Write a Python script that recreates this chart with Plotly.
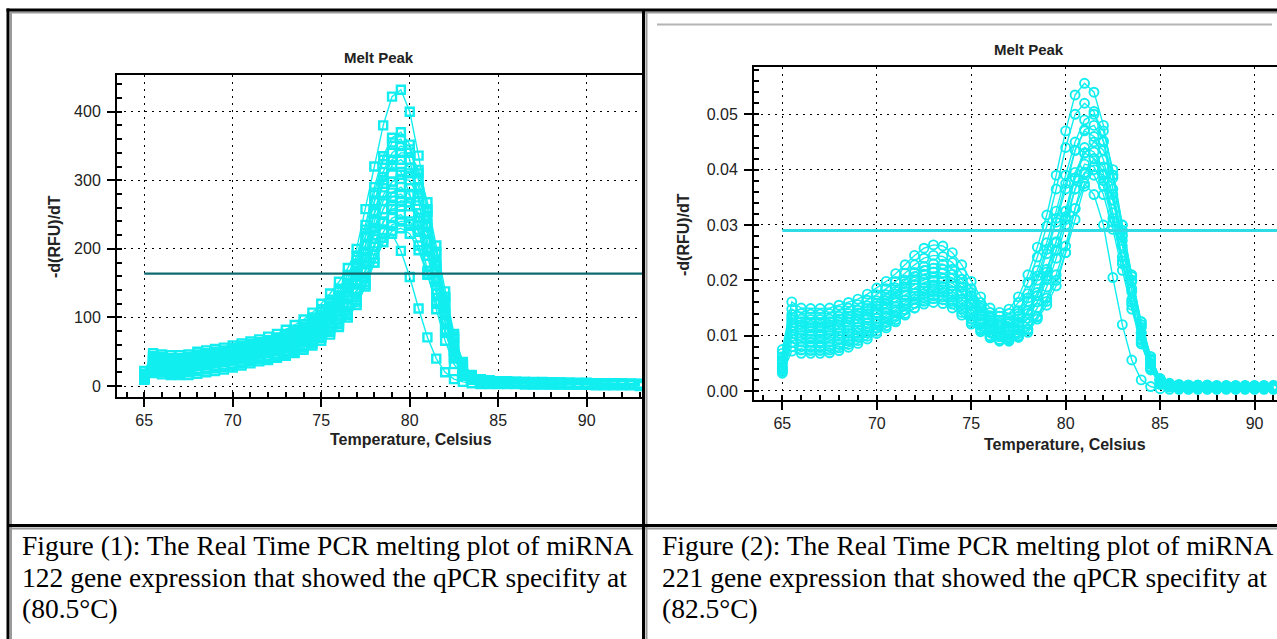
import plotly.graph_objects as go

W, H = 1277, 639

# ---------------- data: left panel (miRNA 122) ----------------
TEMP_L = [65.0, 65.5, 66.0, 66.5, 67.0, 67.5, 68.0, 68.5, 69.0, 69.5,
          70.0, 70.5, 71.0, 71.5, 72.0, 72.5, 73.0, 73.5, 74.0, 74.5,
          75.0, 75.5, 76.0, 76.5, 77.0, 77.5, 78.0, 78.5, 79.0, 79.5,
          80.0, 80.5, 81.0, 81.5, 82.0, 82.5, 83.0, 83.5, 84.0, 84.5,
          85.0, 85.5, 86.0, 86.5, 87.0, 87.5, 88.0, 88.5, 89.0, 89.5,
          90.0, 90.5, 91.0, 91.5, 92.0, 92.5, 93.0]

L_A = [22, 48, 46, 45, 45, 46, 50, 52, 54, 56,
       59, 62, 65, 68, 72, 76, 82, 89, 97, 107,
       120, 135, 152, 172, 200, 258, 320, 380, 422, 432,
       400, 336, 254, 175, 105, 52, 22, 12, 9, 8,
       7, 7, 6, 6, 6, 6, 5, 5, 5, 5,
       5, 4, 4, 4, 4, 3, 3]
L_L = [17, 42, 40, 39, 39, 40, 44, 46, 48, 50,
       53, 56, 59, 62, 65, 69, 74, 80, 87, 97,
       108, 121, 137, 156, 184, 228, 282, 330, 355, 360,
       330, 270, 200, 135, 80, 40, 18, 10, 8, 6,
       6, 6, 5, 5, 5, 5, 5, 4, 4, 4,
       4, 3, 3, 3, 3, 3, 2]
L_B = [18, 44, 42, 41, 41, 42, 46, 48, 50, 52,
       55, 58, 61, 64, 67, 71, 76, 82, 90, 100,
       112, 126, 142, 162, 190, 235, 290, 335, 362, 370,
       352, 300, 235, 170, 108, 58, 26, 13, 9, 7,
       6, 6, 6, 5, 5, 5, 5, 5, 4, 4,
       4, 4, 4, 3, 3, 3, 3]
L_C = [16, 40, 38, 37, 37, 38, 42, 44, 46, 48,
       51, 54, 57, 60, 63, 67, 71, 77, 84, 93,
       104, 117, 132, 150, 176, 218, 268, 312, 340, 350,
       345, 310, 258, 196, 130, 72, 32, 15, 10, 8,
       7, 6, 6, 6, 5, 5, 5, 5, 5, 4,
       4, 4, 4, 4, 3, 3, 3]
L_M = [15, 39, 37, 36, 36, 37, 40, 42, 44, 46,
       49, 52, 55, 58, 61, 65, 69, 74, 81, 90,
       100, 112, 126, 144, 168, 206, 255, 300, 330, 340,
       340, 315, 268, 205, 138, 76, 34, 15, 10, 8,
       7, 6, 6, 5, 5, 5, 5, 5, 4, 4,
       4, 4, 3, 3, 3, 3, 2]
L_D = [14, 37, 35, 34, 34, 35, 39, 41, 43, 45,
       48, 51, 54, 57, 60, 63, 67, 72, 79, 88,
       98, 110, 124, 142, 166, 205, 252, 295, 322, 330,
       318, 280, 225, 165, 108, 60, 28, 14, 9, 7,
       6, 6, 5, 5, 5, 5, 5, 4, 4, 4,
       4, 4, 3, 3, 3, 3, 2]
L_P = [14, 38, 36, 35, 35, 36, 39, 41, 43, 45,
       48, 51, 54, 57, 60, 64, 68, 73, 80, 89,
       100, 113, 128, 148, 175, 218, 270, 305, 320, 312,
       280, 228, 168, 112, 66, 32, 15, 9, 7, 6,
       5, 5, 5, 5, 4, 4, 4, 4, 4, 3,
       3, 3, 3, 3, 2, 2, 2]
L_K = [15, 36, 34, 33, 33, 34, 37, 39, 41, 43,
       46, 49, 52, 55, 58, 61, 65, 70, 76, 85,
       95, 106, 120, 137, 160, 196, 240, 278, 298, 302,
       300, 275, 232, 180, 122, 68, 30, 14, 9, 7,
       6, 5, 5, 5, 5, 4, 4, 4, 4, 4,
       3, 3, 3, 3, 2, 2, 2]
L_E = [13, 34, 32, 31, 31, 32, 36, 38, 40, 42,
       44, 47, 50, 53, 56, 59, 63, 68, 74, 82,
       92, 103, 116, 132, 154, 188, 230, 270, 298, 308,
       310, 290, 248, 192, 130, 75, 35, 16, 10, 7,
       6, 5, 5, 5, 5, 5, 4, 4, 4, 4,
       3, 3, 3, 3, 3, 2, 2]
L_F = [12, 31, 29, 28, 28, 29, 33, 35, 37, 39,
       41, 44, 47, 50, 52, 55, 59, 64, 70, 78,
       87, 97, 110, 126, 148, 180, 220, 258, 282, 290,
       278, 245, 198, 146, 96, 52, 24, 12, 8, 6,
       5, 5, 5, 5, 4, 4, 4, 4, 4, 3,
       3, 3, 3, 3, 2, 2, 2]
L_N = [12, 32, 30, 29, 29, 30, 33, 35, 37, 39,
       42, 45, 48, 51, 54, 57, 61, 66, 72, 80,
       89, 100, 113, 130, 152, 186, 226, 258, 276, 280,
       268, 235, 190, 140, 92, 50, 23, 12, 8, 6,
       5, 5, 5, 4, 4, 4, 4, 4, 3, 3,
       3, 3, 3, 2, 2, 2, 2]
L_G = [11, 28, 26, 25, 25, 26, 29, 31, 33, 35,
       37, 40, 43, 46, 48, 51, 55, 59, 65, 72,
       80, 90, 102, 117, 137, 166, 203, 238, 262, 270,
       268, 252, 222, 178, 124, 70, 32, 14, 8, 6,
       5, 5, 4, 4, 4, 4, 4, 4, 3, 3,
       3, 3, 3, 2, 2, 2, 2]
L_O = [11, 29, 27, 26, 26, 27, 30, 32, 34, 36,
       38, 41, 44, 47, 50, 53, 57, 61, 67, 74,
       82, 92, 104, 119, 140, 170, 208, 240, 258, 262,
       262, 245, 212, 166, 114, 64, 29, 13, 8, 6,
       5, 5, 4, 4, 4, 4, 4, 3, 3, 3,
       3, 3, 2, 2, 2, 2, 2]
L_H = [10, 25, 23, 22, 22, 23, 25, 27, 29, 31,
       33, 36, 39, 42, 44, 47, 51, 55, 60, 67,
       75, 84, 96, 110, 130, 158, 192, 224, 245, 250,
       236, 205, 164, 120, 78, 42, 20, 10, 7, 5,
       5, 4, 4, 4, 4, 4, 3, 3, 3, 3,
       3, 3, 2, 2, 2, 2, 2]
L_Q = [10, 24, 22, 21, 21, 22, 24, 26, 28, 30,
       32, 35, 38, 41, 43, 46, 49, 53, 58, 64,
       72, 81, 92, 106, 125, 152, 186, 216, 235, 240,
       240, 225, 196, 155, 106, 60, 27, 12, 7, 5,
       4, 4, 4, 4, 3, 3, 3, 3, 3, 3,
       2, 2, 2, 2, 2, 2, 1]
L_I = [10, 22, 20, 19, 19, 20, 22, 24, 26, 28,
       30, 33, 36, 39, 41, 44, 47, 51, 56, 62,
       70, 79, 90, 104, 122, 148, 180, 210, 226, 230,
       222, 198, 162, 122, 82, 46, 22, 11, 7, 5,
       4, 4, 4, 4, 3, 3, 3, 3, 3, 3,
       2, 2, 2, 2, 2, 2, 1]
L_J = [9, 19, 17, 16, 16, 16, 18, 20, 22, 24,
       27, 30, 33, 36, 38, 41, 44, 48, 53, 59,
       66, 75, 86, 100, 118, 145, 180, 210, 222, 197,
       159, 113, 71, 40, 20, 10, 6, 4, 3, 3,
       3, 3, 3, 2, 2, 2, 2, 2, 2, 2,
       2, 1, 1, 1, 1, 1, 0]
LEFT_CURVES = [L_A, L_L, L_B, L_C, L_M, L_D, L_P, L_K, L_E, L_F, L_N, L_G, L_O, L_H, L_Q, L_I, L_J]
LEFT_THRESHOLD = 164
LEFT_THRESH_X = [65.0, 95.0]

# ---------------- data: right panel (miRNA 221) ----------------
TEMP_R = [65.0, 65.5, 66.0, 66.5, 67.0, 67.5, 68.0, 68.5, 69.0, 69.5,
          70.0, 70.5, 71.0, 71.5, 72.0, 72.5, 73.0, 73.5, 74.0, 74.5,
          75.0, 75.5, 76.0, 76.5, 77.0, 77.5, 78.0, 78.5, 79.0, 79.5,
          80.0, 80.5, 81.0, 81.5, 82.0, 82.5, 83.0, 83.5, 84.0, 84.5,
          85.0, 85.5, 86.0, 86.5, 87.0, 87.5, 88.0, 88.5, 89.0, 89.5,
          90.0, 90.5, 91.0]

R_1 = [0.0075, 0.0161, 0.0150, 0.0149, 0.0149, 0.0150, 0.0155, 0.0160, 0.0166, 0.0175,
       0.0186, 0.0198, 0.0212, 0.0228, 0.0245, 0.0258, 0.0264, 0.0262, 0.0250, 0.0228,
       0.0198, 0.0170, 0.0150, 0.0142, 0.0148, 0.0170, 0.0210, 0.0260, 0.0318, 0.0390,
       0.0470, 0.0535, 0.0556, 0.0540, 0.0480, 0.0390, 0.0290, 0.0200, 0.0115, 0.0055,
       0.0022, 0.0014, 0.0012, 0.0011, 0.0011, 0.0011, 0.0010, 0.0010, 0.0010, 0.0010,
       0.0010, 0.0010, 0.0010]
R_2 = [0.0068, 0.0148, 0.0140, 0.0139, 0.0139, 0.0140, 0.0145, 0.0150, 0.0156, 0.0164,
       0.0174, 0.0185, 0.0198, 0.0213, 0.0228, 0.0240, 0.0245, 0.0243, 0.0232, 0.0212,
       0.0185, 0.0160, 0.0142, 0.0135, 0.0140, 0.0160, 0.0196, 0.0242, 0.0298, 0.0365,
       0.0440, 0.0500, 0.0520, 0.0505, 0.0450, 0.0365, 0.0272, 0.0185, 0.0105, 0.0048,
       0.0018, 0.0012, 0.0010, 0.0010, 0.0010, 0.0009, 0.0009, 0.0009, 0.0009, 0.0009,
       0.0009, 0.0009, 0.0008]
R_3 = [0.0062, 0.0138, 0.0130, 0.0129, 0.0129, 0.0130, 0.0135, 0.0140, 0.0146, 0.0154,
       0.0163, 0.0174, 0.0186, 0.0200, 0.0214, 0.0225, 0.0230, 0.0229, 0.0220, 0.0202,
       0.0178, 0.0154, 0.0136, 0.0128, 0.0130, 0.0145, 0.0176, 0.0218, 0.0268, 0.0325,
       0.0390, 0.0450, 0.0490, 0.0500, 0.0470, 0.0400, 0.0300, 0.0210, 0.0120, 0.0058,
       0.0020, 0.0013, 0.0011, 0.0010, 0.0010, 0.0010, 0.0009, 0.0009, 0.0009, 0.0009,
       0.0009, 0.0009, 0.0009]
R_10 = [0.0058, 0.0133, 0.0125, 0.0124, 0.0124, 0.0125, 0.0130, 0.0135, 0.0141, 0.0149,
        0.0158, 0.0168, 0.0180, 0.0194, 0.0207, 0.0218, 0.0222, 0.0220, 0.0211, 0.0195,
        0.0172, 0.0150, 0.0132, 0.0124, 0.0126, 0.0140, 0.0168, 0.0208, 0.0256, 0.0312,
        0.0375, 0.0435, 0.0472, 0.0480, 0.0452, 0.0385, 0.0290, 0.0200, 0.0115, 0.0055,
        0.0020, 0.0012, 0.0010, 0.0009, 0.0009, 0.0009, 0.0008, 0.0008, 0.0008, 0.0008,
        0.0008, 0.0008, 0.0008]
R_4 = [0.0055, 0.0128, 0.0120, 0.0119, 0.0119, 0.0120, 0.0125, 0.0130, 0.0136, 0.0144,
       0.0153, 0.0163, 0.0175, 0.0188, 0.0201, 0.0211, 0.0215, 0.0213, 0.0204, 0.0188,
       0.0166, 0.0145, 0.0128, 0.0120, 0.0122, 0.0135, 0.0162, 0.0200, 0.0248, 0.0305,
       0.0365, 0.0435, 0.0470, 0.0460, 0.0418, 0.0345, 0.0262, 0.0180, 0.0105, 0.0050,
       0.0019, 0.0011, 0.0009, 0.0008, 0.0008, 0.0008, 0.0008, 0.0008, 0.0008, 0.0007,
       0.0007, 0.0007, 0.0007]
R_12 = [0.0052, 0.0123, 0.0115, 0.0114, 0.0114, 0.0115, 0.0119, 0.0124, 0.0130, 0.0138,
        0.0147, 0.0157, 0.0168, 0.0180, 0.0192, 0.0201, 0.0205, 0.0203, 0.0195, 0.0180,
        0.0160, 0.0140, 0.0124, 0.0116, 0.0115, 0.0124, 0.0145, 0.0172, 0.0208, 0.0255,
        0.0310, 0.0365, 0.0395, 0.0390, 0.0355, 0.0292, 0.0218, 0.0148, 0.0085, 0.0040,
        0.0014, 0.0008, 0.0006, 0.0006, 0.0006, 0.0006, 0.0006, 0.0005, 0.0005, 0.0005,
        0.0005, 0.0005, 0.0005]
R_5 = [0.0050, 0.0118, 0.0110, 0.0109, 0.0109, 0.0110, 0.0114, 0.0119, 0.0125, 0.0132,
       0.0141, 0.0151, 0.0162, 0.0174, 0.0186, 0.0196, 0.0200, 0.0198, 0.0190, 0.0176,
       0.0156, 0.0136, 0.0120, 0.0112, 0.0112, 0.0122, 0.0145, 0.0178, 0.0220, 0.0270,
       0.0325, 0.0385, 0.0430, 0.0450, 0.0435, 0.0390, 0.0300, 0.0207, 0.0125, 0.0062,
       0.0022, 0.0012, 0.0009, 0.0008, 0.0008, 0.0008, 0.0007, 0.0007, 0.0007, 0.0007,
       0.0007, 0.0007, 0.0006]
R_6 = [0.0045, 0.0108, 0.0100, 0.0099, 0.0099, 0.0100, 0.0104, 0.0109, 0.0115, 0.0122,
       0.0131, 0.0141, 0.0152, 0.0164, 0.0176, 0.0186, 0.0190, 0.0188, 0.0180, 0.0166,
       0.0148, 0.0130, 0.0116, 0.0108, 0.0108, 0.0118, 0.0140, 0.0172, 0.0215, 0.0268,
       0.0325, 0.0395, 0.0430, 0.0420, 0.0380, 0.0312, 0.0235, 0.0160, 0.0092, 0.0042,
       0.0015, 0.0009, 0.0007, 0.0006, 0.0006, 0.0006, 0.0006, 0.0006, 0.0006, 0.0006,
       0.0006, 0.0005, 0.0005]
R_11 = [0.0042, 0.0103, 0.0095, 0.0094, 0.0094, 0.0095, 0.0099, 0.0104, 0.0110, 0.0117,
        0.0126, 0.0136, 0.0147, 0.0159, 0.0171, 0.0181, 0.0185, 0.0183, 0.0175, 0.0161,
        0.0143, 0.0125, 0.0111, 0.0103, 0.0102, 0.0111, 0.0131, 0.0161, 0.0201, 0.0254,
        0.0315, 0.0385, 0.0440, 0.0432, 0.0392, 0.0322, 0.0242, 0.0165, 0.0095, 0.0044,
        0.0015, 0.0008, 0.0006, 0.0006, 0.0006, 0.0005, 0.0005, 0.0005, 0.0005, 0.0005,
        0.0005, 0.0005, 0.0005]
R_7 = [0.0040, 0.0098, 0.0090, 0.0089, 0.0089, 0.0090, 0.0094, 0.0099, 0.0105, 0.0113,
       0.0122, 0.0132, 0.0143, 0.0155, 0.0166, 0.0176, 0.0180, 0.0178, 0.0170, 0.0156,
       0.0138, 0.0120, 0.0106, 0.0098, 0.0096, 0.0104, 0.0122, 0.0150, 0.0188, 0.0240,
       0.0300, 0.0365, 0.0410, 0.0405, 0.0370, 0.0305, 0.0230, 0.0155, 0.0088, 0.0038,
       0.0012, 0.0007, 0.0005, 0.0005, 0.0005, 0.0005, 0.0005, 0.0005, 0.0005, 0.0005,
       0.0005, 0.0005, 0.0004]
R_8 = [0.0035, 0.0088, 0.0080, 0.0079, 0.0079, 0.0080, 0.0084, 0.0090, 0.0097, 0.0105,
       0.0114, 0.0124, 0.0135, 0.0147, 0.0158, 0.0168, 0.0172, 0.0170, 0.0162, 0.0148,
       0.0130, 0.0113, 0.0100, 0.0093, 0.0092, 0.0098, 0.0112, 0.0134, 0.0162, 0.0200,
       0.0250, 0.0310, 0.0370, 0.0400, 0.0390, 0.0345, 0.0280, 0.0200, 0.0125, 0.0062,
       0.0022, 0.0009, 0.0005, 0.0004, 0.0004, 0.0004, 0.0004, 0.0004, 0.0004, 0.0004,
       0.0004, 0.0004, 0.0004]
R_13 = [0.0038, 0.0080, 0.0074, 0.0073, 0.0073, 0.0074, 0.0078, 0.0084, 0.0091, 0.0099,
        0.0108, 0.0118, 0.0129, 0.0140, 0.0150, 0.0157, 0.0160, 0.0158, 0.0150, 0.0137,
        0.0121, 0.0107, 0.0096, 0.0090, 0.0090, 0.0097, 0.0110, 0.0135, 0.0168, 0.0210,
        0.0262, 0.0330, 0.0392, 0.0420, 0.0405, 0.0355, 0.0282, 0.0198, 0.0120, 0.0058,
        0.0020, 0.0008, 0.0004, 0.0004, 0.0004, 0.0004, 0.0004, 0.0004, 0.0004, 0.0004,
        0.0004, 0.0004, 0.0004]
R_9 = [0.0032, 0.0072, 0.0068, 0.0068, 0.0068, 0.0069, 0.0073, 0.0079, 0.0086, 0.0094,
       0.0104, 0.0114, 0.0125, 0.0137, 0.0150, 0.0162, 0.0167, 0.0165, 0.0157, 0.0142,
       0.0125, 0.0110, 0.0098, 0.0092, 0.0093, 0.0100, 0.0106, 0.0130, 0.0155, 0.0190,
       0.0250, 0.0330, 0.0375, 0.0355, 0.0300, 0.0205, 0.0120, 0.0056, 0.0020, 0.0008,
       0.0004, 0.0003, 0.0003, 0.0003, 0.0003, 0.0003, 0.0003, 0.0003, 0.0003, 0.0003,
       0.0003, 0.0003, 0.0003]
RIGHT_CURVES = [R_1, R_2, R_3, R_10, R_4, R_12, R_5, R_6, R_11, R_7, R_8, R_13, R_9]
RIGHT_THRESHOLD = 0.029
RIGHT_THRESH_X = [65.0, 95.0]

CAPTION_LEFT = ["Figure (1): The Real Time PCR melting plot of miRNA",
                "122 gene expression that showed the qPCR specifity at",
                "(80.5°C)"]
CAPTION_RIGHT = ["Figure (2): The Real Time PCR melting plot of miRNA",
                 "221 gene expression that showed the qPCR specifity at",
                 "(82.5°C)"]

# ---------------- styling ----------------
CYAN = "#12EEF0"
SANS = "Liberation Sans, Arial, sans-serif"
SERIF = "Liberation Serif, Times New Roman, serif"


def px(x):
    return x / W


def py(y):
    return 1 - y / H


fig = go.Figure()

for ys in LEFT_CURVES:
    fig.add_trace(go.Scatter(
        x=TEMP_L, y=ys, mode="lines+markers", xaxis="x", yaxis="y",
        line=dict(color=CYAN, width=1.4),
        marker=dict(symbol="square-open", size=8, color=CYAN, line=dict(width=2.4, color=CYAN)),
        showlegend=False, hoverinfo="skip"))
fig.add_trace(go.Scatter(
    x=LEFT_THRESH_X, y=[LEFT_THRESHOLD, LEFT_THRESHOLD], mode="lines", xaxis="x", yaxis="y",
    line=dict(color="#0F6B70", width=2.2), showlegend=False, hoverinfo="skip"))

for ys in RIGHT_CURVES:
    fig.add_trace(go.Scatter(
        x=TEMP_R, y=ys, mode="lines+markers", xaxis="x2", yaxis="y2",
        line=dict(color=CYAN, width=1.4),
        marker=dict(symbol="circle-open", size=9, color=CYAN, line=dict(width=1.9, color=CYAN)),
        showlegend=False, hoverinfo="skip"))
fig.add_trace(go.Scatter(
    x=RIGHT_THRESH_X, y=[RIGHT_THRESHOLD, RIGHT_THRESHOLD], mode="lines", xaxis="x2", yaxis="y2",
    line=dict(color="#2EDCE6", width=3), showlegend=False, hoverinfo="skip"))

tickfont = dict(family=SANS, size=16, color="#222222")
axis_common = dict(
    showline=True, linecolor="black", linewidth=2,
    showgrid=True, gridcolor="black", gridwidth=1.2, griddash="2px,5px",
    zeroline=False, ticks="outside", ticklen=8, tickwidth=2, tickcolor="black",
    tickfont=tickfont, fixedrange=True,
)

fig.update_layout(
    width=W, height=H,
    margin=dict(l=0, r=0, t=0, b=0),
    paper_bgcolor="white", plot_bgcolor="white",
    showlegend=False,
    xaxis=dict(domain=[px(117), px(643)], anchor="y", range=[63.46, 93.18],
               tickvals=[65, 70, 75, 80, 85, 90], mirror=True,
               minor=dict(dtick=1, tick0=65, ticks="inside", ticklen=5, tickwidth=2, tickcolor="black", showgrid=False),
               **axis_common),
    yaxis=dict(domain=[py(397), py(75)], anchor="x", range=[-16, 453.5],
               tickvals=[0, 100, 200, 300, 400], ticklabelstandoff=3,
               minor=dict(dtick=20, tick0=0, ticks="inside", ticklen=5, tickwidth=2, tickcolor="black", showgrid=False),
               **axis_common),
    xaxis2=dict(domain=[px(754), 1.0], anchor="y2", range=[63.5, 91.19],
                tickvals=[65, 70, 75, 80, 85, 90], mirror=True,
                minor=dict(dtick=1, tick0=65, ticks="inside", ticklen=5, tickwidth=2, tickcolor="black", showgrid=False),
                **axis_common),
    yaxis2=dict(domain=[py(400), py(67)], anchor="x2", range=[-0.00163, 0.05855],
                tickvals=[0, 0.01, 0.02, 0.03, 0.04, 0.05], tickformat=".2f", ticklabelstandoff=3,
                minor=dict(dtick=0.002, tick0=0, ticks="inside", ticklen=5, tickwidth=2, tickcolor="black", showgrid=False),
                **axis_common),
)

ann = []
ann.append(dict(text="<b>Melt Peak</b>", x=px(379), y=py(58), font=dict(family=SANS, size=15, color="#222")))
ann.append(dict(text="<b>Temperature, Celsius</b>", x=px(411), y=py(440), font=dict(family=SANS, size=16, color="#222")))
ann.append(dict(text="<b>-d(RFU)/dT</b>", x=px(54), y=py(237), textangle=-90, font=dict(family=SANS, size=16, color="#222")))
ann.append(dict(text="<b>Melt Peak</b>", x=px(1029), y=py(49), font=dict(family=SANS, size=15, color="#222")))
ann.append(dict(text="<b>Temperature, Celsius</b>", x=px(1065), y=py(445), font=dict(family=SANS, size=16, color="#222")))
ann.append(dict(text="<b>-d(RFU)/dT</b>", x=px(683), y=py(235), textangle=-90, font=dict(family=SANS, size=16, color="#222")))
for a in ann:
    a.update(xref="paper", yref="paper", showarrow=False, xanchor="center", yanchor="middle")

line_ys = [545, 577, 608]
for i, t in enumerate(CAPTION_LEFT):
    ann.append(dict(text=t, x=px(20), y=py(line_ys[i]), xref="paper", yref="paper", showarrow=False,
                    xanchor="left", yanchor="middle", font=dict(family=SERIF, size=27.5, color="black")))
for i, t in enumerate(CAPTION_RIGHT):
    ann.append(dict(text=t, x=px(660), y=py(line_ys[i]), xref="paper", yref="paper", showarrow=False,
                    xanchor="left", yanchor="middle", font=dict(family=SERIF, size=27.5, color="black")))
fig.update_layout(annotations=ann)

shapes = []


def hline(y, x0, x1, color, w):
    shapes.append(dict(type="line", xref="paper", yref="paper", x0=px(x0), x1=px(x1), y0=py(y), y1=py(y),
                       line=dict(color=color, width=w), layer="above"))


def vline(x, y0, y1, color, w):
    shapes.append(dict(type="line", xref="paper", yref="paper", x0=px(x), x1=px(x), y0=py(y0), y1=py(y1),
                       line=dict(color=color, width=w), layer="above"))


# table borders
hline(12.5, 10, W, "#9a9a9a", 2)
vline(11, 12, H, "#9a9a9a", 2)
vline(646.5, 12, H, "#9a9a9a", 2)
hline(528.5, 10, W, "#9a9a9a", 2)
hline(10, 6.5, W, "black", 3)
vline(8, 8.5, H, "black", 3)
vline(643.5, 10, H, "black", 3)
hline(525.5, 8, W, "black", 3)
hline(24.5, 657, 1272, "#b4b4b4", 2)
fig.update_layout(shapes=shapes)

fig.write_html("out.html",
               config={"displayModeBar": False, "staticPlot": False},
               post_script="document.body.style.margin='0px';document.body.style.padding='0px';"
                           "document.body.style.overflow='hidden';")
